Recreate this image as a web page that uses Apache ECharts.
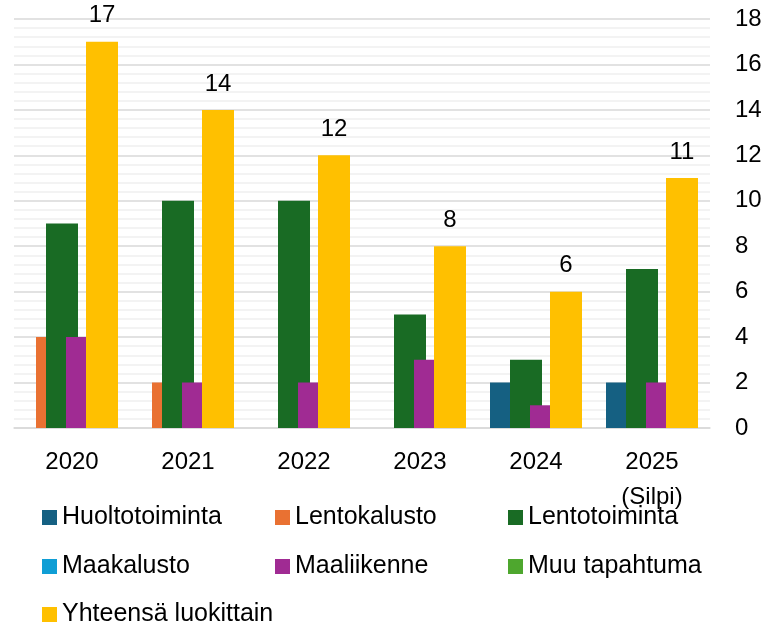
<!DOCTYPE html>
<html>
<head>
<meta charset="utf-8">
<script src="https://cdn.jsdelivr.net/npm/echarts@6/dist/echarts.min.js"></script>
<style>
  html, body { margin: 0; padding: 0; background: #fff; }
  #chart { width: 767px; height: 625px; }
</style>
</head>
<body>
<div id="chart"></div>
<script>
var years = ['2020', '2021', '2022', '2023', '2024', '2025\n(Silpi)']
var huoltotoiminta = [0, 0, 0, 0, 2, 2]
var lentokalusto = [4, 2, 0, 0, 0, 0]
var lentotoiminta = [9, 10, 10, 5, 3, 7]
var maakalusto = [0, 0, 0, 0, 0, 0]
var maaliikenne = [4, 2, 2, 3, 1, 2]
var muuTapahtuma = [0, 0, 0, 0, 0, 0]
var yhteensa = [17, 14, 12, 8, 6, 11]

var font = 'Liberation Sans, Arial, sans-serif'

function bar(name, color, data, withLabel) {
  var s = {
    name: name,
    type: 'bar',
    barWidth: 32,
    barGap: '-68.75%',
    itemStyle: { color: color },
    data: data
  }
  if (withLabel) {
    s.label = {
      show: true,
      position: 'top',
      distance: 14,
      color: '#000',
      fontFamily: font,
      fontSize: 24
    }
  }
  return s
}

// one legend per item so the 3-column grid stays put
function legendItem(left, top, name) {
  return {
    left: left,
    top: top,
    padding: 0,
    icon: 'rect',
    itemWidth: 15,
    itemHeight: 15,
    itemTextGap: 8,
    selectedMode: false,
    data: [name],
    textStyle: { color: '#000', fontFamily: font, fontSize: 25, lineHeight: 24 }
  }
}

var option = {
  animation: false,
  grid: { left: 14, right: 57, top: 19, bottom: 197 },
  legend: [
    legendItem(42, 505, 'Huoltotoiminta'),
    legendItem(275, 505, 'Lentokalusto'),
    legendItem(508, 505, 'Lentotoiminta'),
    legendItem(42, 554, 'Maakalusto'),
    legendItem(275, 554, 'Maaliikenne'),
    legendItem(508, 554, 'Muu tapahtuma'),
    legendItem(42, 602, 'Yhteensä luokittain')
  ],
  xAxis: {
    type: 'category',
    data: years,
    axisLine: { lineStyle: { color: '#d9d9d9', width: 1.5 } },
    axisTick: { alignWithLabel: true, length: 6, lineStyle: { color: '#d9d9d9', width: 1.5 } },
    axisLabel: {
      color: '#000',
      fontFamily: font,
      fontSize: 24,
      lineHeight: 35,
      margin: 17
    }
  },
  yAxis: {
    type: 'value',
    position: 'right',
    min: 0,
    max: 18,
    interval: 2,
    axisLine: { show: false },
    axisTick: { show: false },
    axisLabel: { color: '#000', fontFamily: font, fontSize: 24, margin: 25 },
    splitLine: { lineStyle: { color: '#d9d9d9', width: 1.5 } },
    minorTick: { show: false, splitNumber: 5 },
    minorSplitLine: { show: true, lineStyle: { color: '#efefef', width: 1.5 } }
  },
  series: [
    bar('Huoltotoiminta', '#156082', huoltotoiminta),
    bar('Lentokalusto', '#E97132', lentokalusto),
    bar('Lentotoiminta', '#196B24', lentotoiminta),
    bar('Maakalusto', '#0F9ED5', maakalusto),
    bar('Maaliikenne', '#A02B93', maaliikenne),
    bar('Muu tapahtuma', '#4EA72E', muuTapahtuma),
    bar('Yhteensä luokittain', '#FFC000', yhteensa, true)
  ]
}

var chart = echarts.init(document.getElementById('chart'))
chart.setOption(option)
</script>
</body>
</html>
